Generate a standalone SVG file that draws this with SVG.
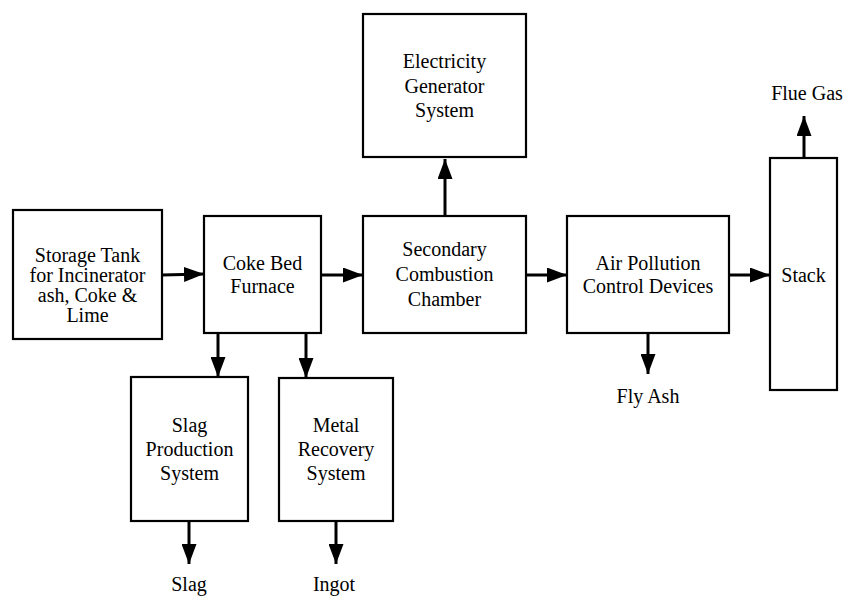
<svg xmlns="http://www.w3.org/2000/svg" width="845" height="596" viewBox="0 0 845 596" font-family="'Liberation Serif', 'Times New Roman', serif">
  <defs>
    <marker id="arrow" markerUnits="userSpaceOnUse" markerWidth="20" markerHeight="15" refX="20" refY="7.5" orient="auto">
      <path d="M0,0 L20,7.5 L0,15 Z" fill="#000"/>
    </marker>
    <style>
      .box { fill: #fff; stroke: #000; stroke-width: 2.2; }
      .lbl { font-family: 'Liberation Serif', 'Times New Roman', serif; font-size: 20px; fill: #000; text-anchor: middle; }
      .flow { stroke: #000; stroke-width: 3; fill: none; marker-end: url(#arrow); }
    </style>
  </defs>
  <rect width="845" height="596" fill="#fff"/>

  <!-- process units -->
  <g id="storage-tank">
    <rect class="box" x="13" y="210" width="149" height="129"/>
    <text class="lbl" x="87.5" y="262">Storage Tank</text>
    <text class="lbl" x="87.5" y="282">for Incinerator</text>
    <text class="lbl" x="87.5" y="302">ash, Coke &amp;</text>
    <text class="lbl" x="87.5" y="322">Lime</text>
  </g>
  <g id="coke-bed-furnace">
    <rect class="box" x="204" y="216" width="117" height="117"/>
    <text class="lbl" x="262.5" y="270">Coke Bed</text>
    <text class="lbl" x="262.5" y="293">Furnace</text>
  </g>
  <g id="secondary-combustion">
    <rect class="box" x="363" y="216" width="163" height="117"/>
    <text class="lbl" x="444.5" y="256">Secondary</text>
    <text class="lbl" x="444.5" y="281">Combustion</text>
    <text class="lbl" x="444.5" y="306">Chamber</text>
  </g>
  <g id="electricity-generator">
    <rect class="box" x="363" y="14" width="163" height="143"/>
    <text class="lbl" x="444.5" y="68">Electricity</text>
    <text class="lbl" x="444.5" y="92.5">Generator</text>
    <text class="lbl" x="444.5" y="117">System</text>
  </g>
  <g id="air-pollution-control">
    <rect class="box" x="567" y="216" width="162" height="117"/>
    <text class="lbl" x="648" y="269.5">Air Pollution</text>
    <text class="lbl" x="648" y="292.5">Control Devices</text>
  </g>
  <g id="stack">
    <rect class="box" x="770" y="158" width="67" height="232"/>
    <text class="lbl" x="803.5" y="282">Stack</text>
  </g>
  <g id="slag-production">
    <rect class="box" x="131" y="377" width="117" height="144"/>
    <text class="lbl" x="189.5" y="432">Slag</text>
    <text class="lbl" x="189.5" y="456">Production</text>
    <text class="lbl" x="189.5" y="480">System</text>
  </g>
  <g id="metal-recovery">
    <rect class="box" x="279" y="378" width="114" height="143"/>
    <text class="lbl" x="336" y="432">Metal</text>
    <text class="lbl" x="336" y="456">Recovery</text>
    <text class="lbl" x="336" y="480">System</text>
  </g>

  <!-- output streams -->
  <g id="outputs">
    <text class="lbl" x="807" y="99.5">Flue Gas</text>
    <text class="lbl" x="648" y="403">Fly Ash</text>
    <text class="lbl" x="189" y="591">Slag</text>
    <text class="lbl" x="334" y="591">Ingot</text>
  </g>

  <!-- connectors -->
  <g id="connectors">
    <line class="flow" x1="162" y1="275" x2="204" y2="274"/>
    <line class="flow" x1="321" y1="275" x2="363" y2="275"/>
    <line class="flow" x1="526" y1="275" x2="567" y2="275"/>
    <line class="flow" x1="729" y1="275" x2="770" y2="275"/>
    <line class="flow" x1="445" y1="216" x2="445" y2="159"/>
    <line class="flow" x1="804" y1="158" x2="804" y2="116"/>
    <line class="flow" x1="648" y1="333" x2="648" y2="374"/>
    <line class="flow" x1="218" y1="333" x2="218" y2="377"/>
    <line class="flow" x1="306" y1="333" x2="306" y2="378"/>
    <line class="flow" x1="189" y1="521" x2="189" y2="564"/>
    <line class="flow" x1="336" y1="521" x2="336" y2="564"/>
  </g>
</svg>
